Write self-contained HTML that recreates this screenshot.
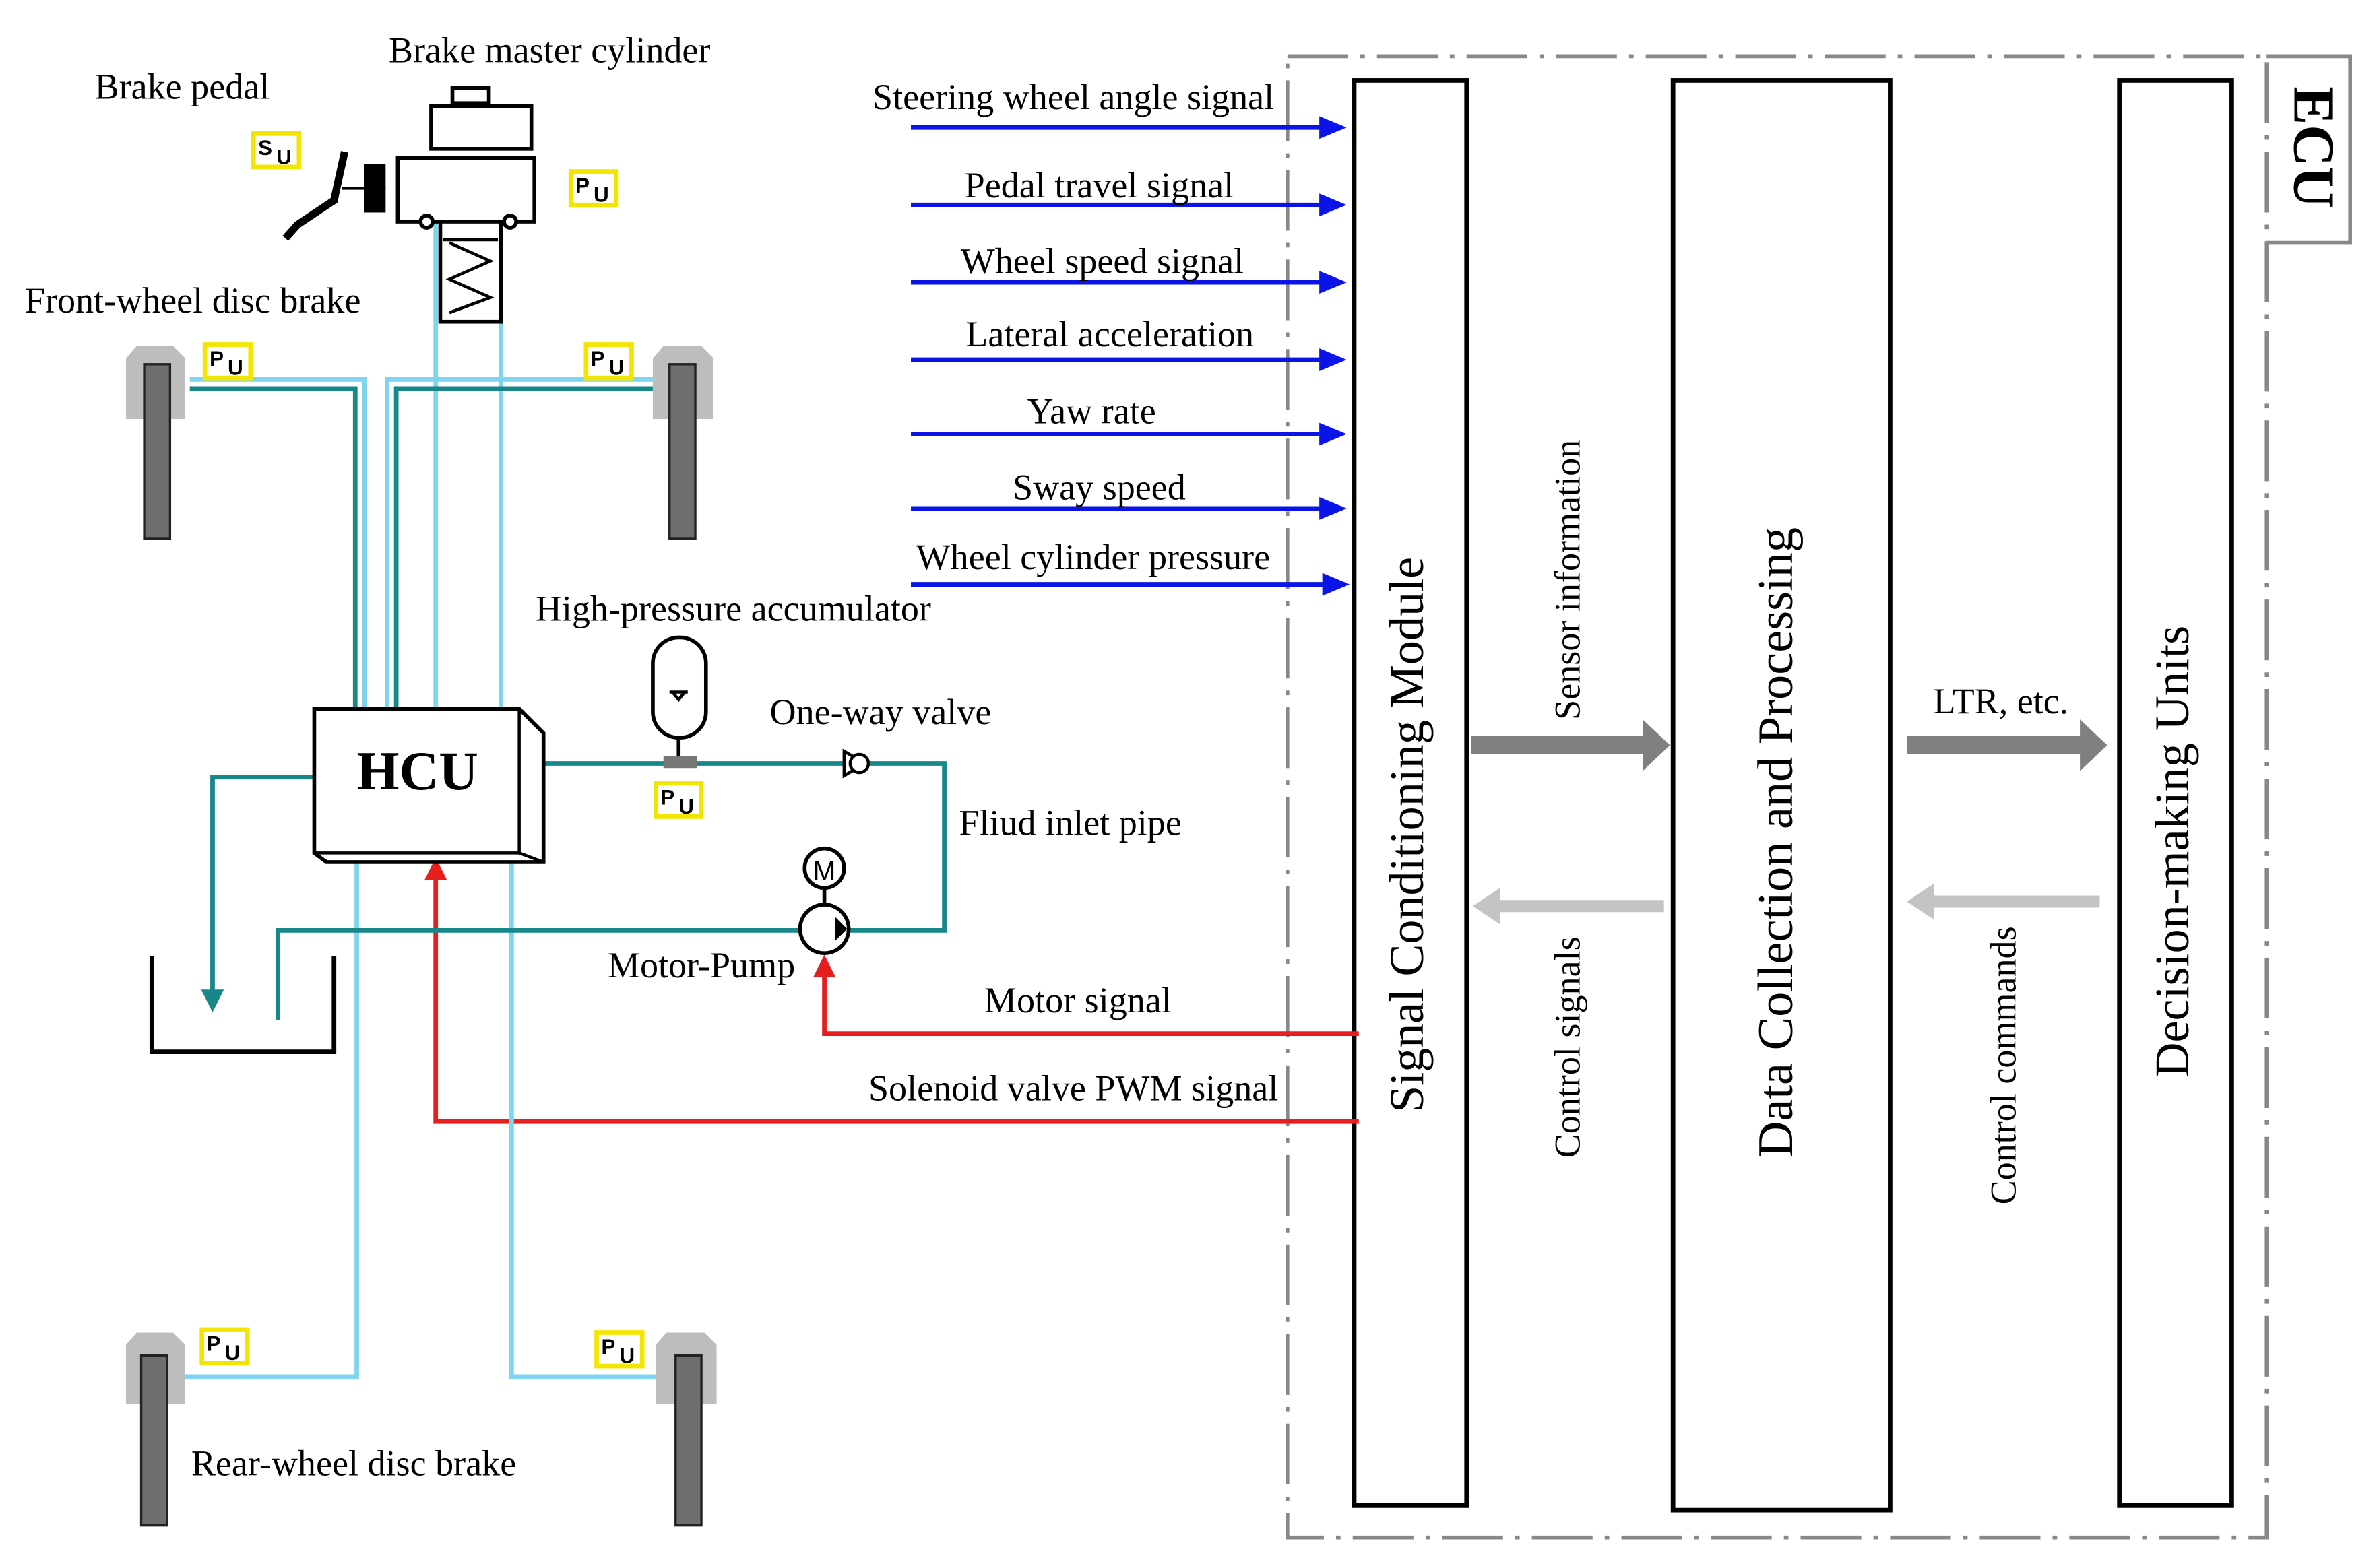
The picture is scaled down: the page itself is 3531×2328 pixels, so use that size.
<!DOCTYPE html>
<html><head><meta charset="utf-8"><style>html,body{margin:0;padding:0;background:#fff}svg{display:block}</style></head>
<body>
<svg xmlns="http://www.w3.org/2000/svg" width="3531" height="2328" viewBox="0 0 1567 1033.1" preserveAspectRatio="none" font-family="Liberation Serif, serif">
<defs>
<marker id="bA" markerWidth="6" markerHeight="6" refX="5" refY="3" orient="auto" markerUnits="strokeWidth"><path d="M0,0.5 L6,3 L0,5.5 z" fill="#0a14e6"/></marker>
<marker id="rA" markerWidth="5" markerHeight="5" refX="4" refY="2.5" orient="auto" markerUnits="strokeWidth"><path d="M0,0 L5,2.5 L0,5 z" fill="#e61e1e"/></marker>
<marker id="tA" markerWidth="5" markerHeight="5" refX="4" refY="2.5" orient="auto" markerUnits="strokeWidth"><path d="M0,0 L5,2.5 L0,5 z" fill="#17878a"/></marker>
</defs>
<g stroke="#888" stroke-width="2.5" fill="none" stroke-dasharray="40,8,3,8">
<rect x="848" y="37" width="645" height="976"/>
</g>
<path d="M1493,37 H1548 V160 H1493" stroke="#888" stroke-width="2.5" fill="none"/>
<text transform="translate(1520,97) rotate(90)" font-size="38" text-anchor="middle" dominant-baseline="middle" font-weight="bold">ECU</text>
<g stroke="#000" stroke-width="3" fill="#fff">
<rect x="892" y="53" width="74" height="939"/>
<rect x="1102" y="53" width="143" height="942"/>
<rect x="1396" y="53" width="74" height="939"/>
</g>
<text transform="translate(930,550) rotate(-90)" font-size="32" text-anchor="middle" dominant-baseline="middle">Signal Conditioning Module</text>
<text transform="translate(1173,555) rotate(-90)" font-size="33" text-anchor="middle" dominant-baseline="middle">Data Collection and Processing</text>
<text transform="translate(1434,561) rotate(-90)" font-size="32" text-anchor="middle" dominant-baseline="middle">Decision-making Units</text>
<g fill="#808080">
<path d="M969,485 H1082 V474 L1100,491 L1082,508 V497 H969 z"/>
<path d="M1256,485 H1370 V474 L1388,491 L1370,508 V497 H1256 z"/>
</g>
<g fill="#c4c4c4">
<path d="M1096,593 H988 V585 L970,597 L988,609 V601 H1096 z"/>
<path d="M1383,590 H1274 V582 L1256,594 L1274,606 V598 H1383 z"/>
</g>
<text transform="translate(1035,382) rotate(-90)" font-size="24" text-anchor="middle" dominant-baseline="middle">Sensor information</text>
<text transform="translate(1035,690) rotate(-90)" font-size="24" text-anchor="middle" dominant-baseline="middle">Control signals</text>
<text transform="translate(1322,702) rotate(-90)" font-size="24" text-anchor="middle" dominant-baseline="middle">Control commands</text>
<text x="1318" y="470" font-size="24" text-anchor="middle">LTR, etc.</text>
<g stroke="#0a14e6" stroke-width="3" marker-end="url(#bA)">
<line x1="600" y1="84" x2="884" y2="84"/>
<line x1="600" y1="135" x2="884" y2="135"/>
<line x1="600" y1="186" x2="884" y2="186"/>
<line x1="600" y1="237" x2="884" y2="237"/>
<line x1="600" y1="286" x2="884" y2="286"/>
<line x1="600" y1="335" x2="884" y2="335"/>
<line x1="600" y1="385" x2="886" y2="385"/>
</g>
<g font-size="24" text-anchor="middle">
<text x="707" y="72">Steering wheel angle signal</text>
<text x="724" y="130">Pedal travel signal</text>
<text x="726" y="180">Wheel speed signal</text>
<text x="731" y="228">Lateral acceleration</text>
<text x="719" y="279">Yaw rate</text>
<text x="724" y="329">Sway speed</text>
<text x="720" y="375">Wheel cylinder pressure</text>
<text x="710" y="667">Motor signal</text>
<text x="707" y="725">Solenoid valve PWM signal</text>
<text x="120" y="65">Brake pedal</text>
<text x="362" y="41">Brake master cylinder</text>
<text x="127" y="206">Front-wheel disc brake</text>
<text x="483" y="409">High-pressure accumulator</text>
<text x="580" y="477">One-way valve</text>
<text x="705" y="550">Fliud inlet pipe</text>
<text x="462" y="644">Motor-Pump</text>
<text x="233" y="972">Rear-wheel disc brake</text>
</g>
<g stroke="#e61e1e" stroke-width="3" fill="none" marker-end="url(#rA)">
<path d="M895,681 H543 V632"/>
<path d="M895,739 H287 V568"/>
</g>
<g stroke="#7fd4ef" stroke-width="3" fill="none">
<path d="M287,145 V467"/>
<path d="M330,145 V467"/>
<path d="M125,250 H240 V467"/>
<path d="M430,250 H255 V467"/>
<path d="M235,562 V907 H120"/>
<path d="M337,562 V907 H432"/>
</g>
<g stroke="#17878a" stroke-width="3" fill="none">
<path d="M125,256 H234 V467"/>
<path d="M430,256 H261 V467"/>
<path d="M352,503 H622 V613 H558"/>
<path d="M528,613 H183 V672"/>
<path d="M207,512 H140 V664" marker-end="url(#tA)"/>
</g>
<path d="M100,630 V693 H220 V630" stroke="#000" stroke-width="3" fill="none"/>
<path d="M207,467 H342 L358,483 V568 H215 L207,562 z" fill="#fff" stroke="#000" stroke-width="2.5"/>
<path d="M342,467 V562 H207 M342,562 L358,568" stroke="#000" stroke-width="2" fill="none"/>
<text x="275" y="520" font-size="36" font-weight="bold" text-anchor="middle">HCU</text>
<rect x="430" y="420" width="35" height="66" rx="17" fill="#fff" stroke="#000" stroke-width="2.5"/>
<path d="M441,456 H453" stroke="#000" stroke-width="2"/>
<path d="M443,456 L447,461 L451,456" stroke="#000" stroke-width="2" fill="none"/>
<line x1="447" y1="486" x2="447" y2="498" stroke="#000" stroke-width="2.5"/>
<rect x="437" y="498" width="22" height="8" fill="#777"/>
<path d="M556,495 L570,503 L556,511 z" fill="#fff" stroke="#000" stroke-width="2"/>
<circle cx="566" cy="503" r="6" fill="#fff" stroke="#000" stroke-width="2"/>
<circle cx="543" cy="612" r="16" fill="#fff" stroke="#000" stroke-width="2.5"/>
<path d="M550,604 L558,612 L550,620 z" fill="#000"/>
<line x1="543" y1="584" x2="543" y2="596" stroke="#000" stroke-width="2.5"/>
<circle cx="543" cy="572" r="13" fill="#fff" stroke="#000" stroke-width="2.5"/>
<text x="543" y="580" font-size="18" font-family="Liberation Sans, sans-serif" text-anchor="middle">M</text>
<g stroke="#000" stroke-width="2.5" fill="#fff">
<rect x="298" y="58" width="24" height="10"/>
<rect x="284" y="70" width="66" height="28"/>
<rect x="262" y="104" width="90" height="42"/>
<rect x="290" y="146" width="40" height="66"/>
<circle cx="281" cy="146" r="4"/><circle cx="336" cy="146" r="4"/>
</g>
<rect x="240" y="108" width="14" height="32" fill="#000"/>
<path d="M254,124 H225" stroke="#000" stroke-width="2"/>
<path d="M227,100 L220,132 L196,148 L188,157" stroke="#000" stroke-width="5" fill="none"/>
<path d="M296,160 L323,172 L296,184 L323,196 L296,206" stroke="#000" stroke-width="2" fill="none"/>
<line x1="292" y1="158" x2="328" y2="158" stroke="#000" stroke-width="2"/>
<g fill="#bdbdbd">
<path d="M83,236 L90,228 H114 L122,236 V276 H83 z"/>
<path d="M430,236 L437,228 H462 L470,236 V276 H430 z"/>
<path d="M83,886 L90,878 H114 L122,886 V925 H83 z"/>
<path d="M432,886 L439,878 H464 L472,886 V925 H432 z"/>
</g>
<g fill="#6e6e6e" stroke="#222" stroke-width="1.5">
<rect x="95" y="240" width="17" height="115"/>
<rect x="441" y="240" width="17" height="115"/>
<rect x="93" y="893" width="17" height="112"/>
<rect x="445" y="893" width="17" height="112"/>
</g>
<g font-family="Liberation Sans, sans-serif" font-weight="bold" font-size="14">
<g transform="translate(135,227)"><rect width="30" height="22" fill="#fff" stroke="#f2e600" stroke-width="3"/><text x="3" y="14">P</text><text x="15" y="20">U</text></g>
<g transform="translate(386,227)"><rect width="30" height="22" fill="#fff" stroke="#f2e600" stroke-width="3"/><text x="3" y="14">P</text><text x="15" y="20">U</text></g>
<g transform="translate(376,113)"><rect width="30" height="22" fill="#fff" stroke="#f2e600" stroke-width="3"/><text x="3" y="14">P</text><text x="15" y="20">U</text></g>
<g transform="translate(167,88)"><rect width="30" height="22" fill="#fff" stroke="#f2e600" stroke-width="3"/><text x="3" y="14">S</text><text x="15" y="20">U</text></g>
<g transform="translate(432,516)"><rect width="30" height="22" fill="#fff" stroke="#f2e600" stroke-width="3"/><text x="3" y="14">P</text><text x="15" y="20">U</text></g>
<g transform="translate(133,876)"><rect width="30" height="22" fill="#fff" stroke="#f2e600" stroke-width="3"/><text x="3" y="14">P</text><text x="15" y="20">U</text></g>
<g transform="translate(393,878)"><rect width="30" height="22" fill="#fff" stroke="#f2e600" stroke-width="3"/><text x="3" y="14">P</text><text x="15" y="20">U</text></g>
</g>
</svg>
</body></html>
